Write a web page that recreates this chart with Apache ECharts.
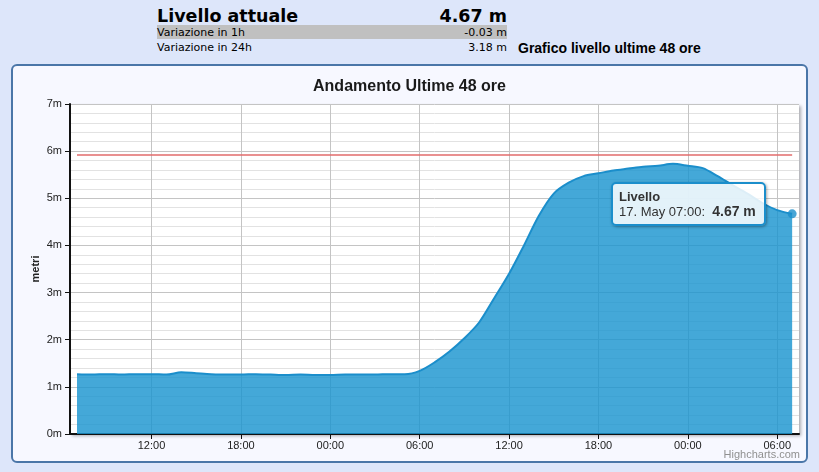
<!DOCTYPE html>
<html>
<head>
<meta charset="utf-8">
<title>Livello</title>
<script src="https://cdn.jsdelivr.net/npm/echarts@6.0.0/dist/echarts.min.js"></script>
<style>
  html, body { margin: 0; padding: 0; }
  body { width: 819px; height: 472px; background: #dde6fa; position: relative; overflow: hidden; }
  .hdr { position: absolute; left: 157px; width: 350px; font-family: "DejaVu Sans", Verdana, sans-serif; color: #000; }
  .hdr span.r { position: absolute; right: 0; }
  #big { top: 6px; height: 20px; font-size: 17.5px; font-weight: bold; line-height: 20px; }
  #v1 { top: 25px; height: 14px; background: #c0c0c0; font-size: 11px; line-height: 15px; }
  #v24 { top: 40px; height: 14px; font-size: 11px; line-height: 15px; }
  #graf { position: absolute; left: 518px; top: 40px; font-family: "Liberation Sans", Arial, sans-serif; font-weight: bold; font-size: 14px; line-height: 17px; color: #000; }
  #box { position: absolute; left: 11px; top: 64px; width: 797px; height: 399px; box-sizing: border-box;
         border: 2px solid #4a76a8; border-radius: 6px; background: #f7f8ff; }
  #chart { position: absolute; left: 0; top: 0; width: 819px; height: 472px; }
</style>
</head>
<body>
<div class="hdr" id="big">Livello attuale<span class="r">4.67 m</span></div>
<div class="hdr" id="v1">Variazione in 1h<span class="r">-0.03 m</span></div>
<div class="hdr" id="v24">Variazione in 24h<span class="r">3.18 m</span></div>
<div id="graf">Grafico livello ultime 48 ore</div>
<div id="box"></div>
<div id="chart"></div>
<script>
// letture orarie dal 15 May 07:00 al 17 May 07:00
var oraInizio = 7
var livello = [
  1.27, 1.26, 1.27, 1.26, 1.27, 1.27, 1.26, 1.31, 1.29, 1.27,
  1.26, 1.26, 1.27, 1.26, 1.25, 1.26, 1.25, 1.25, 1.26, 1.26,
  1.26, 1.27, 1.27, 1.34, 1.52, 1.75, 2.03, 2.37, 2.88, 3.40,
  4.00, 4.63, 5.10, 5.33, 5.47, 5.53, 5.59, 5.63, 5.67, 5.69,
  5.73, 5.69, 5.64, 5.47, 5.28, 5.10, 4.90, 4.75, 4.67
]
var giorni = ['15. May', '16. May', '17. May']
var soglia = 5.93
var tickOre = [12, 18, 24, 30, 36, 42, 48, 54]
var yTicks = [0, 1, 2, 3, 4, 5, 6, 7]

var chartFont = '"Liberation Sans", Arial, sans-serif'
var blu = '#1b8ecb'

var punti = livello.map(function (v, i) { return [oraInizio + i, v] })
var ultimo = punti[punti.length - 1]

function hh(h) {
  var x = h % 24
  return (x < 10 ? '0' : '') + x + ':00'
}

var myChart = echarts.init(document.getElementById('chart'), null, { renderer: 'canvas' })

var option = {
  animation: false,
  backgroundColor: 'transparent',
  textStyle: { fontFamily: chartFont },
  title: {
    text: 'Andamento Ultime 48 ore',
    left: 'center',
    top: 74,
    textStyle: { fontFamily: chartFont, fontSize: 16, fontWeight: 'bold', color: '#1a1a1a' }
  },
  grid: {
    left: 70, right: 20, top: 104, bottom: 38,
    outerBoundsMode: 'none',
    show: true,
    backgroundColor: '#ffffff',
    borderWidth: 0,
    shadowBlur: 3,
    shadowColor: 'rgba(0,0,0,0.3)',
    shadowOffsetX: 2,
    shadowOffsetY: 2
  },
  tooltip: {
    trigger: 'item',
    triggerOn: 'none',
    alwaysShowContent: true,
    backgroundColor: 'rgba(255,255,255,0.85)',
    borderColor: blu,
    borderWidth: 2,
    borderRadius: 5,
    padding: [5, 8, 5, 6],
    extraCssText: 'box-shadow: 1px 1px 3px rgba(0,0,0,0.35); line-height: 15px;',
    textStyle: { fontFamily: chartFont, fontSize: 13, color: '#333' },
    position: function () { return [611, 182] },
    formatter: function (p) {
      var h = p.value[0]
      return '<b>Livello</b><br/>' + giorni[Math.floor(h / 24)] + ' ' + hh(h) +
        ':&nbsp;&nbsp;<b style="font-size:14px">' + p.value[1].toFixed(2) + ' m</b>'
    }
  },
  xAxis: {
    type: 'value',
    min: 6.53,
    max: 55.46,
    axisLine: { show: true, onZero: false, lineStyle: { color: '#111', width: 2 } },
    axisTick: { show: true, length: 5, customValues: tickOre, lineStyle: { color: '#111' } },
    axisLabel: {
      customValues: tickOre,
      margin: 6,
      fontSize: 11,
      color: '#222',
      formatter: function (v) { return hh(v) }
    },
    splitLine: { show: true, lineStyle: { color: '#c4c4c4', width: 1 } }
  },
  yAxis: {
    type: 'value',
    min: yTicks[0],
    max: yTicks[yTicks.length - 1],
    interval: 1,
    name: 'metri',
    nameLocation: 'middle',
    nameGap: 29,
    nameRotate: 90,
    nameMoveOverlap: false,
    nameTextStyle: { fontFamily: chartFont, fontSize: 11, fontWeight: 'bold', color: '#222' },
    axisLine: { show: true, lineStyle: { color: '#111', width: 2 } },
    axisTick: { show: true, length: 5, lineStyle: { color: '#111' } },
    axisLabel: { margin: 8, fontSize: 11, color: '#222', formatter: '{value}m' },
    splitLine: { show: true, lineStyle: { color: '#c4c4c4', width: 1 } },
    minorTick: { show: false, splitNumber: 5 },
    minorSplitLine: { show: true, lineStyle: { color: '#e2e2e2', width: 1 } }
  },
  series: [
    {
      name: 'Livello',
      type: 'line',
      data: punti,
      smooth: 0.3,
      showSymbol: false,
      lineStyle: { color: blu, width: 2 },
      itemStyle: { color: blu },
      areaStyle: { color: '#1b95cf', opacity: 0.82 },
      emphasis: { disabled: true },
      markLine: {
        silent: true,
        symbol: 'none',
        label: { show: false },
        lineStyle: { color: '#e26b6b', width: 1.6, type: 'solid' },
        data: [[{ coord: [punti[0][0], soglia] }, { coord: [ultimo[0], soglia] }]]
      }
    },
    {
      name: 'Livello',
      type: 'scatter',
      data: [ultimo],
      symbolSize: 9,
      itemStyle: { color: blu },
      emphasis: { disabled: true },
      z: 5
    }
  ],
  graphic: [
    {
      type: 'text',
      right: 19,
      top: 449,
      style: { text: 'Highcharts.com', fill: '#909090', font: '11px ' + chartFont }
    }
  ]
}

myChart.setOption(option)
myChart.dispatchAction({ type: 'showTip', seriesIndex: 1, dataIndex: 0 })
</script>
</body>
</html>
